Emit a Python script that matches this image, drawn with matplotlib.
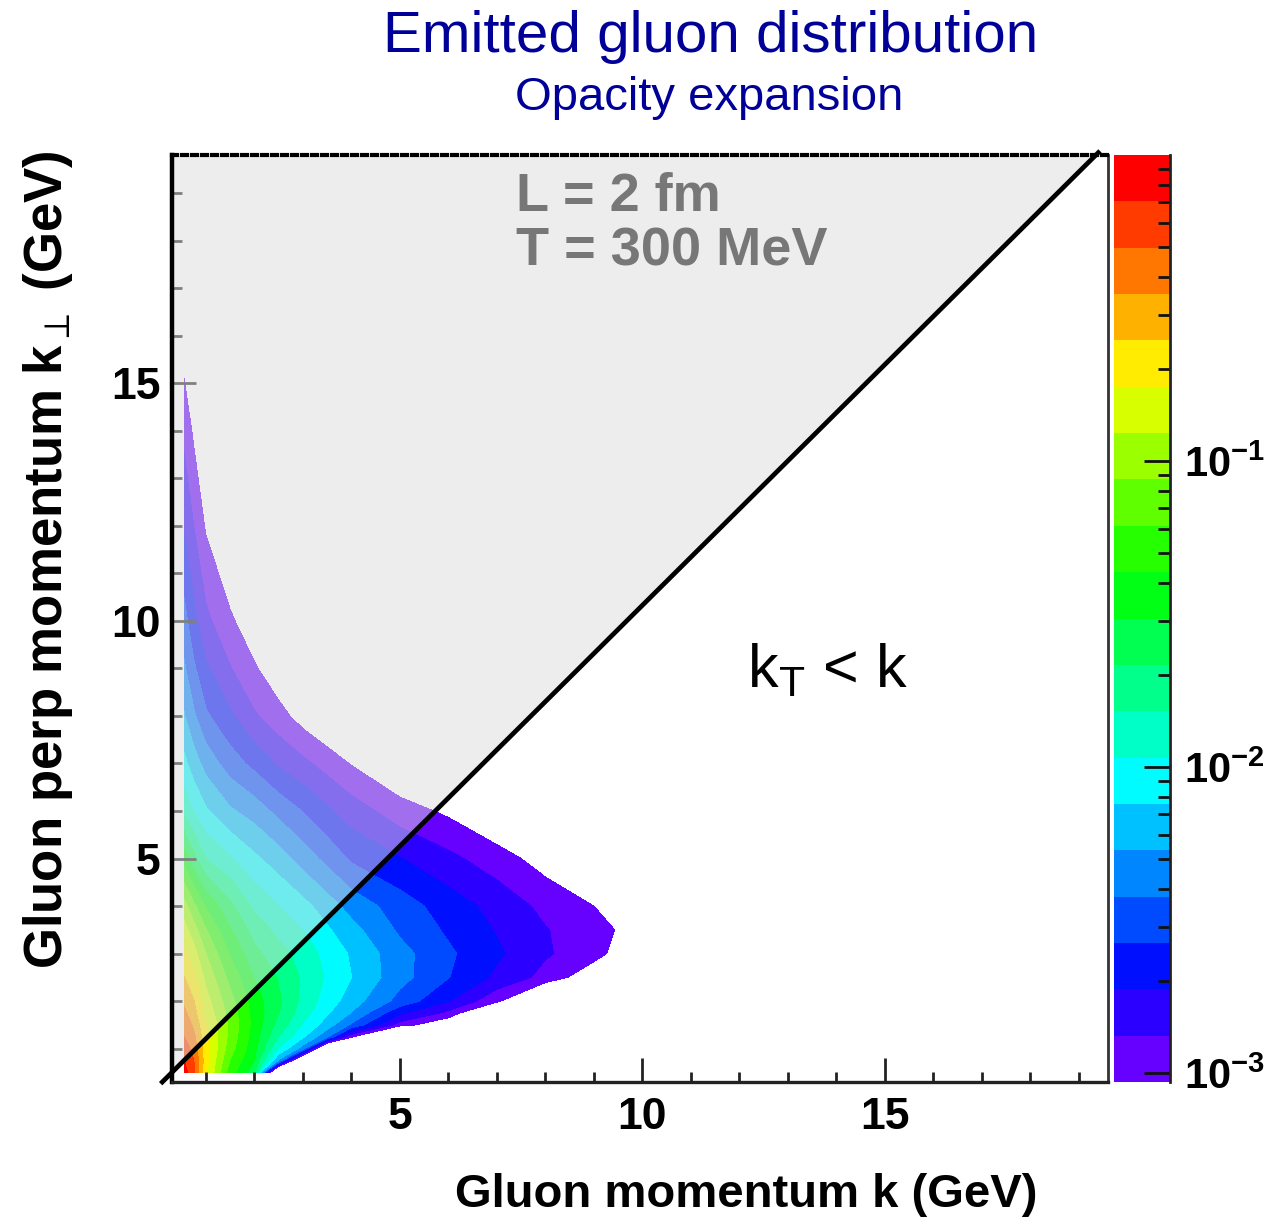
import numpy as np
import matplotlib.pyplot as plt
from matplotlib import font_manager
from matplotlib.ticker import FixedLocator, FuncFormatter, MultipleLocator

# grid of the histogram (GeV): gluon momentum k, transverse momentum kT
k_grid = [0.55, 0.75, 1.0, 1.5, 2.0, 2.5, 3.0, 3.5, 4.0, 5.0, 6.0, 7.0, 8.0, 9.0, 10.0]
kt_grid = [0.5, 0.75, 1.0, 1.25, 1.5, 1.75, 2.0, 2.5, 3.0, 3.5, 4.0,
           5.0, 6.0, 7.0, 8.0, 9.0, 10.0, 12.0, 14.0, 16.0]

# log10 of dN/dk dkT, one list per k column (along kt_grid)
log_dist_by_k = [
    [-0.08, -0.15, -0.22, -0.30, -0.36, -0.42, -0.48, -0.60, -0.72, -0.85, -1.00, -1.42, -1.85, -2.08, -2.26, -2.40, -2.52, -2.74, -2.92, -3.12],
    [-0.28, -0.30, -0.36, -0.42, -0.48, -0.55, -0.60, -0.72, -0.85, -1.00, -1.18, -1.62, -1.98, -2.20, -2.40, -2.55, -2.68, -2.88, -3.06, -3.30],
    [-0.72, -0.70, -0.70, -0.72, -0.75, -0.80, -0.85, -0.95, -1.06, -1.20, -1.38, -1.82, -2.10, -2.33, -2.55, -2.70, -2.84, -3.05, -3.25, -3.45],
    [-1.30, -1.22, -1.15, -1.11, -1.10, -1.12, -1.16, -1.26, -1.38, -1.50, -1.63, -1.95, -2.25, -2.50, -2.70, -2.87, -3.00, -3.25, -3.45, -3.60],
    [-1.60, -1.52, -1.47, -1.44, -1.42, -1.42, -1.44, -1.52, -1.62, -1.73, -1.85, -2.09, -2.34, -2.62, -2.86, -3.01, -3.15, -3.40, -3.60, -3.80],
    [-3.80, -2.30, -1.98, -1.82, -1.72, -1.66, -1.64, -1.68, -1.76, -1.86, -1.97, -2.20, -2.47, -2.75, -2.97, -3.15, -3.30, -3.55, -3.75, -3.90],
    [-4.50, -3.60, -2.35, -2.10, -1.98, -1.90, -1.86, -1.84, -1.88, -1.97, -2.07, -2.34, -2.58, -2.84, -3.10, -3.30, -3.45, -3.70, -3.90, -4.00],
    [-4.50, -4.20, -3.60, -2.40, -2.20, -2.10, -2.04, -1.99, -2.02, -2.10, -2.20, -2.47, -2.70, -2.94, -3.20, -3.40, -3.55, -3.80, -4.00, -4.10],
    [-4.50, -4.50, -3.80, -3.00, -2.45, -2.28, -2.20, -2.12, -2.14, -2.22, -2.33, -2.60, -2.80, -3.04, -3.30, -3.50, -3.65, -3.90, -4.10, -4.20],
    [-4.50, -4.50, -4.50, -4.00, -2.95, -2.70, -2.48, -2.37, -2.37, -2.45, -2.50, -2.72, -2.96, -3.20, -3.45, -3.65, -3.80, -4.00, -4.20, -4.30],
    [-4.50, -4.50, -4.50, -4.50, -3.20, -2.92, -2.72, -2.57, -2.55, -2.60, -2.65, -2.84, -3.06, -3.35, -3.60, -3.80, -4.00, -4.20, -4.40, -4.50],
    [-4.50, -4.50, -4.50, -4.50, -4.50, -3.40, -3.00, -2.76, -2.70, -2.74, -2.78, -2.96, -3.20, -3.45, -3.70, -3.90, -4.10, -4.30, -4.50, -4.60],
    [-4.50, -4.50, -4.50, -4.50, -4.50, -4.50, -3.40, -2.93, -2.86, -2.87, -2.92, -3.10, -3.35, -3.60, -3.80, -4.00, -4.20, -4.40, -4.50, -4.60],
    [-4.50, -4.50, -4.50, -4.50, -4.50, -4.50, -4.50, -3.15, -2.97, -2.97, -3.03, -3.25, -3.50, -3.70, -3.90, -4.10, -4.30, -4.50, -4.60, -4.70],
    [-4.50, -4.50, -4.50, -4.50, -4.50, -4.50, -4.50, -3.60, -3.20, -3.11, -3.20, -3.50, -3.70, -3.90, -4.10, -4.30, -4.50, -4.60, -4.70, -4.80],
]

# kT = k boundary line (GeV)
diag_k = [0.1, 19.4]
diag_kt = [0.3, 19.85]

x_ticks = [5, 10, 15]
y_ticks = [5, 10, 15]
cbar_ticks = [-3, -2, -1]

# 20 contour bands, 10^-3.03 .. 10^0
levels = np.linspace(-3.03, 0.0, 21)
band_colors = ['#6600ff', '#2b00ff', '#0010ff', '#004bff', '#0086ff', '#00c1ff', '#00fcff',
               '#00ffc7', '#00ff8b', '#00ff50', '#00ff15', '#25ff00', '#60ff00', '#9bff00',
               '#d7ff00', '#ffec00', '#ffb100', '#ff7600', '#ff3b00', '#ff0000']

names = {f.name for f in font_manager.fontManager.ttflist}
label_font = 'Liberation Sans Narrow' if 'Liberation Sans Narrow' in names else 'Liberation Sans'

plt.rcParams['font.family'] = 'Liberation Sans'
plt.rcParams['mathtext.fontset'] = 'custom'
plt.rcParams['mathtext.rm'] = 'Liberation Sans'
plt.rcParams['mathtext.it'] = 'Liberation Sans:italic'
plt.rcParams['mathtext.bf'] = 'Liberation Sans:bold'

W, H = 1284, 1221
fig = plt.figure(figsize=(W / 100, H / 100), dpi=100)
ax = fig.add_axes([172 / W, 1 - 1082 / H, 936 / W, 927 / H])

K, KT = np.meshgrid(k_grid, kt_grid)
Z = np.array(log_dist_by_k).T
cf = ax.contourf(K, KT, Z, levels=levels, colors=band_colors, zorder=1)

# shaded region kT > k
ax.fill_between(diag_k, diag_kt, 19.8, color='#dddddd', alpha=0.5, lw=0, zorder=2)
ax.plot(diag_k, diag_kt, color='black', lw=3.4, zorder=4, clip_on=False)

ax.set_xlim(0.3, 19.6)
ax.set_ylim(0.3, 19.8)

ax.set_xticks(x_ticks)
ax.set_yticks(y_ticks)
ax.set_xticklabels([str(v) for v in x_ticks], fontweight='bold')
ax.set_yticklabels([str(v) for v in y_ticks], fontweight='bold')
ax.xaxis.set_minor_locator(MultipleLocator(1))
ax.yaxis.set_minor_locator(MultipleLocator(1))
ax.tick_params(which='major', direction='in', length=17, width=2, color='#222222',
               labelsize=32, top=False, right=False)
ax.tick_params(which='minor', direction='in', length=7, width=2, color='#222222',
               top=False, right=False)
ax.tick_params(axis='x', pad=11)
ax.tick_params(axis='y', pad=8)

ax.spines['left'].set_linewidth(3.2)
ax.spines['bottom'].set_linewidth(2.4)
ax.spines['bottom'].set_color('#222222')
ax.spines['right'].set_linewidth(2)
ax.spines['right'].set_color('#333333')
ax.spines['top'].set_linewidth(3)
ax.spines['top'].set_linestyle((0, (1.2, 1.2)))
for s in ax.spines.values():
    s.set_zorder(5)

ax.text(7.4, 18.92, 'L = 2 fm', color='#777777', fontsize=39, fontweight='bold', va='center')
ax.text(7.4, 17.77, 'T = 300 MeV', color='#777777', fontsize=39, fontweight='bold', va='center')
ax.text(12.15, 8.6, r'k$_{\mathrm{T}}$ < k', color='black', fontsize=44, va='baseline')

# colour scale
cax = fig.add_axes([1114 / W, 1 - 1082 / H, 56 / W, 927 / H])
cb = fig.colorbar(cf, cax=cax, ticks=cbar_ticks)
cb.outline.set_visible(False)
cax.set_ylim(levels[0], levels[-1])
minor = [np.log10(m) + e for e in (-3, -2, -1) for m in range(2, 10)]
cax.yaxis.set_minor_locator(FixedLocator([v for v in minor if levels[0] <= v <= levels[-1]]))
cax.yaxis.set_major_formatter(FuncFormatter(lambda v, p: r'$\mathbf{10^{%d}}$' % round(v)))
cax.yaxis.set_ticks_position('right')
cax.tick_params(which='major', direction='in', length=19, width=2, labelsize=30, pad=10, color='#111111')
cax.tick_params(which='minor', direction='in', length=9, width=2, color='#111111')
cax.plot([1, 1], [0, 1], transform=cax.transAxes, color='#222222', lw=2, clip_on=False)

fig.text(711 / W, 1 - 37 / H, 'Emitted gluon distribution', color='#000099',
         fontsize=42, ha='center', va='center')
fig.text(709 / W, 1 - 98 / H, 'Opacity expansion', color='#000099',
         fontsize=34, ha='center', va='center')
fig.text(746 / W, 1 - 1195 / H, 'Gluon momentum k (GeV)', fontsize=34, fontweight='bold',
         family=label_font, ha='center', va='center')
fig.text(48 / W, 1 - 560 / H, r'Gluon perp momentum k$_{\perp}$ (GeV)', fontsize=38,
         fontweight='bold', family=label_font, rotation=90, ha='center', va='center')

fig.savefig('out.png', dpi=100)
